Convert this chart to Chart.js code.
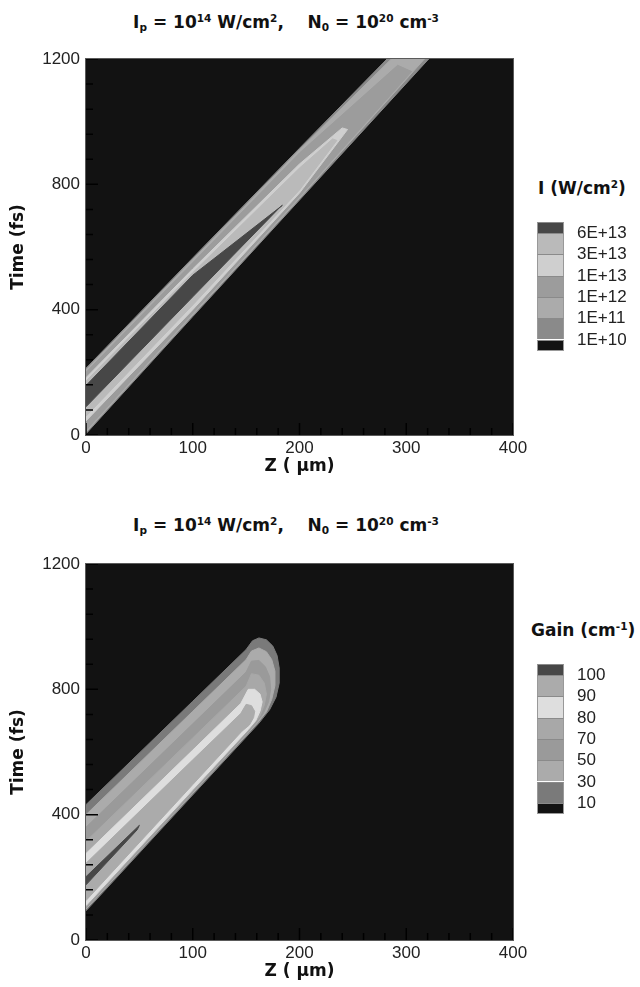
<!DOCTYPE html>
<html>
<head>
<meta charset="utf-8">
<script src="https://cdn.jsdelivr.net/npm/chart.js@4.4.1/dist/chart.umd.min.js"></script>
<style>
  body { margin: 0; width: 640px; height: 987px; background: #fff; position: relative; overflow: hidden;
         font-family: "Liberation Sans", Arial, sans-serif; color: #222; }
  canvas { position: absolute; left: 0; }
  .title { position: absolute; left: 0; width: 572px; text-align: center; white-space: pre;
           font: bold 17px "DejaVu Sans", sans-serif; line-height: 20px; color: #111; }
  .bar-title { position: absolute; white-space: pre; font: bold 17px "DejaVu Sans", sans-serif; line-height: 20px; color: #111; }
  sup { font-size: 0.62em; vertical-align: 0.55em; line-height: 0; }
  sub { font-size: 0.62em; vertical-align: -0.3em; line-height: 0; }
  .cell { position: absolute; left: 537px; width: 27px; box-sizing: border-box;
          border-left: 1px solid #999; border-right: 1px solid #999; border-top: 1px solid #8a8a8a; }
  .cell.last { border-bottom: 1px solid #999; }
  .lbl { position: absolute; left: 577px; font-size: 17px; line-height: 20px; color: #222; }
</style>
</head>
<body>
<div class="title" style="top:12px">I<sub>p</sub> = 10<sup>14</sup> W/cm<sup>2</sup>,    N<sub>0</sub> = 10<sup>20</sup> cm<sup>-3</sup></div>
<div class="title" style="top:515px">I<sub>p</sub> = 10<sup>14</sup> W/cm<sup>2</sup>,    N<sub>0</sub> = 10<sup>20</sup> cm<sup>-3</sup></div>
<div class="bar-title" style="left:538px;top:178px">I (W/cm<sup>2</sup>)</div>
<div class="bar-title" style="left:531px;top:620px">Gain (cm<sup>-1</sup>)</div>
<canvas id="intensityChart" width="640" height="482" style="top:0"></canvas>
<canvas id="gainChart" width="640" height="482" style="top:505px"></canvas>
<script>
// axis ticks
const zTicks = [0, 100, 200, 300, 400];
const timeTicks = [0, 400, 800, 1200];

// colour bars, top to bottom (labels sit on the boundaries)
const intensityLabels = ['6E+13', '3E+13', '1E+13', '1E+12', '1E+11', '1E+10'];
const intensityColors = ['#474747', '#bababa', '#cfcfcf', '#9c9c9c', '#ababab', '#8a8a8a', '#121212'];
const gainLabels = ['100', '90', '80', '70', '50', '30', '10'];
const gainColors = ['#474747', '#ababab', '#dedede', '#a8a8a8', '#9a9a9a', '#ababab', '#7a7a7a', '#121212'];

// intensity contour regions, [Z (um), time (fs)], lowest level first
const intensity1e10 = [[0,4],[100,378],[200,750],[321,1200],[282,1200],[200,915],[100,565],[0,213]];
const intensity1e11 = [[0,9],[100,383],[200,755],[317,1200],[286,1200],[200,910],[100,560],[0,208]];
const intensity1e12 = [[0,15],[100,389],[200,761],[305,1160],[292,1180],[200,900],[100,550],[0,200]];
const intensity1e13 = [[0,45],[100,400],[200,772],[245,975],[240,980],[200,865],[100,530],[0,183]];
const intensity3e13 = [[0,60],[100,415],[200,782],[235,940],[231,945],[200,852],[100,518],[0,172]];
const intensity6e13 = [[0,90],[100,441],[182,728],[184,733],[100,510],[0,158]];

// gain contour regions, [Z (um), time (fs)], lowest level first
const gain10 = [[0,93],[100,463],[162,692],[172,735],[178,775],[181,820],[181,868],[179,908],[175,938],[169,958],[162,964],[156,955],[150,927],[100,762],[0,432]];
const gain30 = [[0,98],[100,468],[160,690],[169,728],[174,768],[177,812],[177,858],[174,895],[169,920],[162,932],[155,922],[150,895],[100,730],[0,400]];
const gain50 = [[0,102],[100,472],[158,687],[166,722],[171,760],[173,800],[172,840],[168,872],[162,892],[155,890],[150,855],[100,690],[0,360]];
const gain70 = [[0,106],[100,476],[155,680],[163,715],[167,750],[169,785],[167,820],[162,845],[155,850],[150,810],[100,645],[0,315]];
const gain80 = [[0,110],[100,480],[152,672],[159,700],[163,730],[165,760],[163,785],[158,800],[152,800],[145,755],[100,606],[0,276]];
const gain90 = [[0,126],[100,496],[146,666],[153,686],[157,710],[158,730],[155,748],[150,752],[145,723],[100,575],[0,245]];
const gain100 = [[0,176],[48,352],[50,366],[0,202]];

// dataset for each filled contour region, outer ones drawn first
function bandDatasets(bands, colors) {
    return bands.map((pts, i) => ({
        data: pts.map(p => ({x: p[0], y: p[1]})),
        showLine: true,
        fill: 'shape',
        clip: false,
        backgroundColor: colors[i],
        borderColor: colors[i],
        borderWidth: 1,
        pointRadius: 0,
        order: bands.length - i
    }));
}

// dark plot background, inward ticks and frame
const plotFrame = {
    id: 'plotFrame',
    beforeDraw(chart) {
        const a = chart.chartArea;
        chart.ctx.save();
        chart.ctx.fillStyle = '#121212';
        chart.ctx.fillRect(a.left, a.top, a.width, a.height);
        chart.ctx.restore();
    },
    afterDatasetsDraw(chart) {
        const {ctx, chartArea: a, scales: {x, y}} = chart;
        ctx.save();
        ctx.strokeStyle = '#000';
        ctx.lineWidth = 1.5;
        ctx.beginPath();
        for (let v = 0; v <= 400; v += 20) {
            const px = x.getPixelForValue(v);
            ctx.moveTo(px, a.bottom);
            ctx.lineTo(px, a.bottom - (v % 100 === 0 ? 12 : 7));
        }
        for (let v = 0; v <= 1200; v += 80) {
            const py = y.getPixelForValue(v);
            ctx.moveTo(a.left, py);
            ctx.lineTo(a.left + (v % 400 === 0 ? 12 : 7), py);
        }
        ctx.stroke();
        ctx.lineWidth = 1;
        ctx.strokeStyle = '#5a5a5a';
        ctx.strokeRect(a.left - 0.5, a.top - 0.5, a.width + 1, a.height + 1);
        ctx.restore();
    }
};

const tickFont = {family: '"Liberation Sans", Arial, sans-serif', size: 17};
const titleFont = {family: '"DejaVu Sans", sans-serif', size: 17, weight: 'bold'};

function plotOptions() {
    return {
        responsive: false,
        animation: false,
        layout: {padding: {top: 59, right: 127, left: 0, bottom: 0}},
        plugins: {legend: {display: false}, tooltip: {enabled: false}},
        scales: {
            x: {
                type: 'linear', min: 0, max: 400,
                afterBuildTicks: s => { s.ticks = zTicks.map(v => ({value: v})); },
                afterFit: s => { s.height = 47; },
                grid: {display: false, drawTicks: false},
                border: {display: false},
                ticks: {font: tickFont, color: '#222', padding: 3, maxRotation: 0, callback: v => String(v)},
                title: {display: true, text: 'Z ( μm)', font: titleFont, color: '#111', padding: {top: 0, bottom: 5}}
            },
            y: {
                type: 'linear', min: 0, max: 1200,
                afterBuildTicks: s => { s.ticks = timeTicks.map(v => ({value: v})); },
                afterFit: s => { s.width = 86; },
                grid: {display: false, drawTicks: false},
                border: {display: false},
                ticks: {font: tickFont, color: '#222', padding: 6, callback: v => String(v)},
                title: {display: true, text: 'Time (fs)', font: titleFont, color: '#111', padding: {top: 8, bottom: 0}}
            }
        }
    };
}

// intensity chart
const intensityBands = [intensity1e10, intensity1e11, intensity1e12, intensity1e13, intensity3e13, intensity6e13];
new Chart(document.getElementById('intensityChart'), {
    type: 'scatter',
    data: {datasets: bandDatasets(intensityBands, intensityColors.slice(0, 6).reverse())},
    options: plotOptions(),
    plugins: [plotFrame]
});

// gain chart
const gainBands = [gain10, gain30, gain50, gain70, gain80, gain90, gain100];
new Chart(document.getElementById('gainChart'), {
    type: 'scatter',
    data: {datasets: bandDatasets(gainBands, gainColors.slice(0, 7).reverse())},
    options: plotOptions(),
    plugins: [plotFrame]
});

// colour bars
function buildColorBar(top, labels, colors) {
    let y = top;
    colors.forEach((c, i) => {
        const h = (i === 0 || i === colors.length - 1) ? 11 : 21.3;
        const cell = document.createElement('div');
        cell.className = 'cell' + (i === colors.length - 1 ? ' last' : '');
        cell.style.top = y + 'px';
        cell.style.height = h + 'px';
        cell.style.background = c;
        document.body.appendChild(cell);
        y += h;
        if (i < labels.length) {
            const lbl = document.createElement('div');
            lbl.className = 'lbl';
            lbl.textContent = labels[i];
            lbl.style.top = (y - 10) + 'px';
            document.body.appendChild(lbl);
        }
    });
}
buildColorBar(222, intensityLabels, intensityColors);
buildColorBar(664, gainLabels, gainColors);
</script>
</body>
</html>
